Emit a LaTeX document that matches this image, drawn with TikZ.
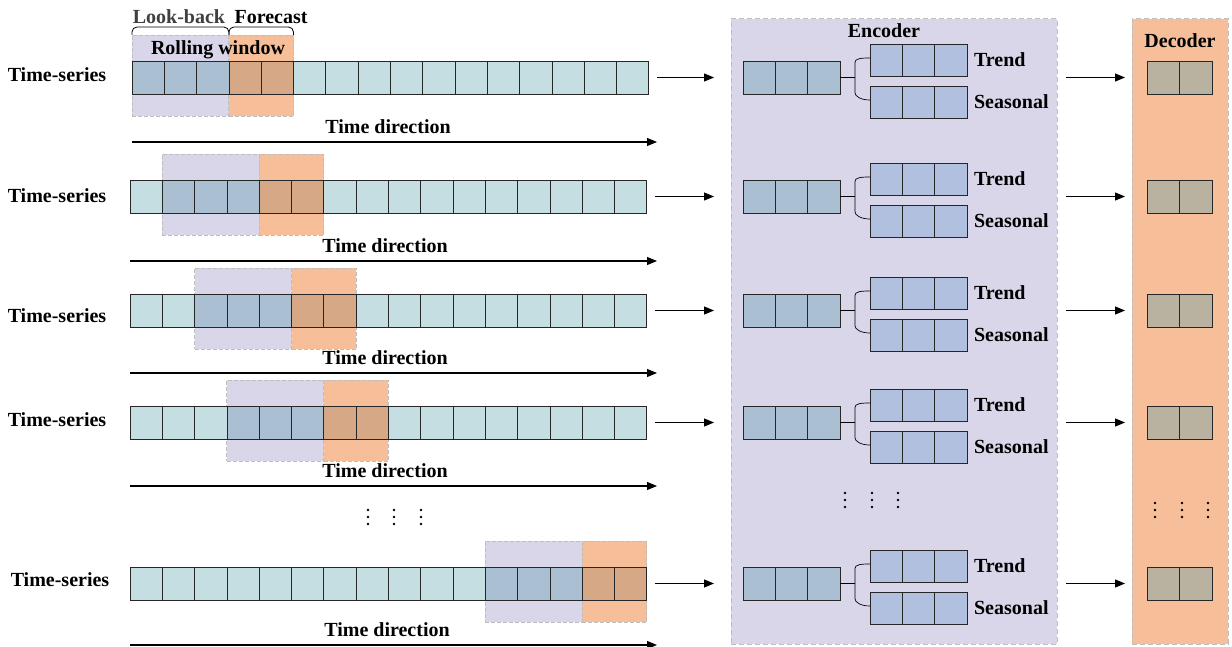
\documentclass[tikz,border=0pt]{standalone}
\usepackage{fontspec}
\setmainfont{Liberation Serif}
\usetikzlibrary{arrows.meta}

\definecolor{tsc}{RGB}{196,222,226}
\definecolor{lbc}{RGB}{170,192,210}
\definecolor{fcc}{RGB}{214,168,134}
\definecolor{lav}{RGB}{217,214,233}
\definecolor{peach}{RGB}{246,191,153}
\definecolor{compc}{RGB}{176,192,222}
\definecolor{decc}{RGB}{185,178,161}
\definecolor{dashgray}{RGB}{190,190,190}
\definecolor{darkgray}{RGB}{64,64,64}

% one input series: 16 cells, with the look-back (3 cells) and forecast (2 cells) windows
\newcommand{\seriesrow}[4]{% #1 row id, #2 x of first cell, #3 top of the cells, #4 first look-back cell
  \node[winbox, fill=lav, minimum width=96.9pt] (lb#1) at ({#2+#4*32.3},#3-26) {};
  \node[winbox, fill=peach, minimum width=64.6pt] (fc#1) at ({#2+(#4+3)*32.3},#3-26) {};
  \foreach \i in {0,...,15}{
    \pgfmathtruncatemacro{\rel}{\i-#4}
    \ifnum\rel<0 \def\cfill{tsc}\else\ifnum\rel<3 \def\cfill{lbc}\else\ifnum\rel<5 \def\cfill{fcc}\else\def\cfill{tsc}\fi\fi\fi
    \node[cell, fill=\cfill] (s#1c\i) at ({#2+\i*32.3},#3) {};
  }
}

% encoder block (input, trend, seasonal) and decoder output for one row
\newcommand{\encrow}[2]{% #1 row id, #2 top of the cells
  \foreach \i in {0,1,2}{\node[cell, fill=lbc] (e#1c\i) at ({743+\i*32.3},#2) {};}
  \foreach \i in {0,1,2}{\node[cell, fill=compc, minimum height=32pt] (t#1c\i) at ({870+\i*32.3},#2-17) {};}
  \foreach \i in {0,1,2}{\node[cell, fill=compc, minimum height=32pt] (q#1c\i) at ({870+\i*32.3},#2+25) {};}
  \node[lbl, anchor=west] (tl#1) at ([xshift=7pt]t#1c2.east) {Trend};
  \node[lbl, anchor=west] (ql#1) at ([xshift=7pt]q#1c2.east) {Seasonal};
  \coordinate (j#1) at ([xshift=15pt]e#1c2.east);
  \draw[line width=1.6pt] (e#1c2.east) -- (j#1);
  \draw[line width=0.7pt] ([yshift=2pt]t#1c0.west) .. controls +(-9,0) and +(0,-4) .. ([yshift=15pt]j#1)
     -- ([yshift=-15pt]j#1) .. controls +(0,4) and +(-9,0) .. ([yshift=2pt]q#1c0.west);
  \foreach \i in {0,1}{\node[cell, fill=decc, minimum width=32.5pt] (d#1c\i) at ({1147+\i*32.5},#2) {};}
  \draw[flow] ([xshift=8pt]s#1c15.east) -- ([xshift=-29pt]e#1c0.west);
  \coordinate (ee#1) at (enc.east |- e#1c2.east);
  \draw[flow] ([xshift=9pt]ee#1) -- ([xshift=-22pt]d#1c0.west);
}

% time direction arrow with its label
\newcommand{\timedir}[4]{% #1 row id, #2 x start, #3 arrow y, #4 label x
  \coordinate (ta#1) at (#2,#3);
  \coordinate (tb#1) at (657,#3);
  \draw[flow] (ta#1) -- (tb#1);
  \node[lbl] (td#1) at (#4,#3-15) {Time direction};
}

% a vertical ellipsis of three dots
\newcommand{\vdotsat}[2]{%
  \foreach \k in {-7,0,7}{\fill (#1,#2+\k) circle (1.4pt);}
}

\begin{document}
\begin{tikzpicture}[x=1pt,y=-1pt,
  cell/.style={draw=black!85, line width=0.7pt, minimum width=32.3pt, minimum height=33pt,
    inner sep=0pt, outer sep=0pt, anchor=north west},
  winbox/.style={draw=dashgray, dash pattern=on 4pt off 2pt, line width=0.9pt,
    inner sep=0pt, outer sep=0pt, anchor=north west, minimum height=81pt},
  frame/.style={draw=dashgray, dash pattern=on 5pt off 3pt, line width=1pt,
    inner sep=0pt, outer sep=0pt, anchor=north west},
  lbl/.style={font=\fontsize{20}{24}\selectfont\bfseries, inner sep=0pt},
  flow/.style={-{Triangle[length=10pt,width=8pt]}, line width=1.1pt},
]
\useasboundingbox (0,0) rectangle (1232,647);

% encoder and decoder panels
\node[frame, fill=lav, minimum width=326pt, minimum height=625pt] (enc) at (731,19) {};
\node[frame, fill=peach, minimum width=96pt, minimum height=625pt] (dec) at (1132,19) {};
\node[lbl] (enclbl) at (884,31) {Encoder};
\node[lbl] (declbl) at (1180,41) {Decoder};

% input series with rolling windows
\seriesrow{1}{132}{61}{0}
\seriesrow{2}{130}{180}{1}
\seriesrow{3}{130}{294}{2}
\seriesrow{4}{130}{406}{3}
\seriesrow{5}{130}{567}{11}

\node[lbl] (ts1) at (57,75) {Time-series};
\node[lbl] (ts2) at (57,196) {Time-series};
\node[lbl] (ts3) at (57,316) {Time-series};
\node[lbl] (ts4) at (57,420) {Time-series};
\node[lbl] (ts5) at (60,580) {Time-series};

\timedir{1}{132}{142}{388}
\timedir{2}{130}{261}{385}
\timedir{3}{130}{373}{385}
\timedir{4}{130}{486}{385}
\timedir{5}{130}{645}{387}

% window braces and labels on the first row
\draw[line width=0.8pt, rounded corners=5pt] (lb1.north west) -- ++(0,-8) -| (lb1.north east);
\draw[line width=0.8pt, rounded corners=5pt] (fc1.north west) -- ++(0,-8) -| (fc1.north east);
\node[lbl, text=darkgray] (lbk) at (179,17) {Look-back};
\node[lbl] (fct) at (271,17) {Forecast};
\node[lbl] (roll) at (218,50) {Rolling window};

% encoder / decoder rows
\encrow{1}{61}
\encrow{2}{180}
\encrow{3}{294}
\encrow{4}{406}
\encrow{5}{567}

% ellipses
\vdotsat{368}{517}\vdotsat{394}{517}\vdotsat{421}{517}
\vdotsat{845}{500}\vdotsat{872}{500}\vdotsat{898}{500}
\vdotsat{1155}{510}\vdotsat{1182}{510}\vdotsat{1208}{510}
\end{tikzpicture}
\end{document}
